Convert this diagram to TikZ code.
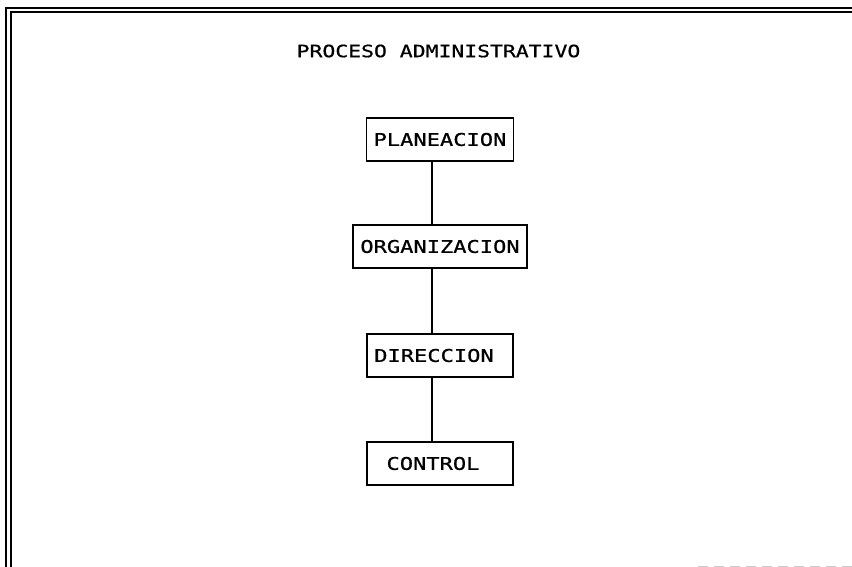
\documentclass[tikz,border=0pt]{standalone}
\usepackage{fontspec}
\newfontfamily\dotfont[FakeStretch=1.26,FakeBold=0.8]{DejaVu Sans Mono}
\begin{document}
\begin{tikzpicture}[x=1pt,y=-1pt,
  stagebox/.style={draw=black, line width=1.4pt, minimum height=43pt, inner sep=0pt,
    font=\dotfont\fontsize{17.5}{20}\selectfont},
  linkline/.style={line width=1.4pt},
  frameline/.style={line width=1.3pt}]
\useasboundingbox (0,0) rectangle (852,567);
% outer frame
\draw[frameline] (6,567) -- (6,8) -- (852,8);
\draw[frameline] (11,567) -- (11,12) -- (852,12);
\draw[gray!40, line width=0.7pt, dash pattern=on 10pt off 6pt] (698,566) -- (852,566);
% title
\node[font=\dotfont\fontsize{17}{20}\selectfont] (title) at (438.5,51) {PROCESO ADMINISTRATIVO};
% boxes
\node[stagebox, minimum width=147pt] (plan) at (440,139.5) {PLANEACION};
\node[stagebox, minimum width=174pt] (org) at (440,246.5) {ORGANIZACION};
\node[stagebox, minimum width=146pt] (dir) at (440,355.5) {\hspace*{-6pt}DIRECCION\hspace*{6pt}};
\node[stagebox, minimum width=146pt] (ctl) at (440,463.5) {\hspace*{-7pt}CONTROL\hspace*{7pt}};
% connectors
\draw[linkline] ([xshift=-8pt]plan.south) -- ([xshift=-8pt]org.north);
\draw[linkline] ([xshift=-8pt]org.south) -- ([xshift=-8pt]dir.north);
\draw[linkline] ([xshift=-8pt]dir.south) -- ([xshift=-8pt]ctl.north);
\end{tikzpicture}
\end{document}
